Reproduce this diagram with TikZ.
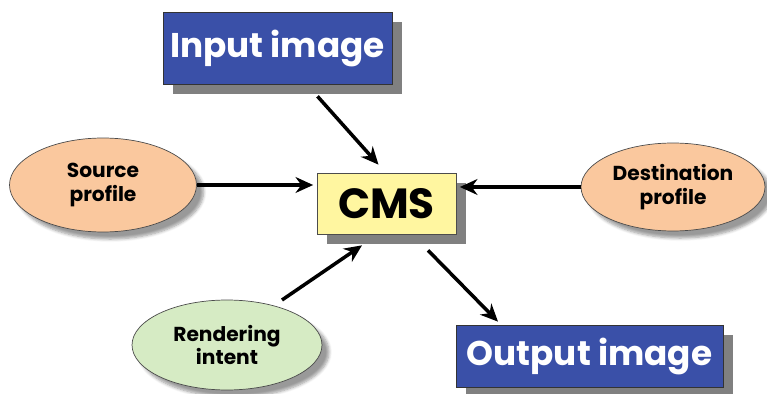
\documentclass[tikz,border=0pt]{standalone}
\usepackage{fontspec}
\setsansfont{Poppins}
\usetikzlibrary{arrows.meta,positioning,shapes.geometric,shadows,shadows.blur}
\definecolor{boxblue}{RGB}{58,80,168}
\definecolor{cmsyellow}{RGB}{255,246,160}
\definecolor{peach}{RGB}{250,200,158}
\definecolor{palegreen}{RGB}{214,235,196}
\definecolor{shadowgray}{RGB}{128,128,128}

\begin{document}
\begin{tikzpicture}[x=0.02cm, y=-0.02cm,
    imgbox/.style={rectangle, draw=black!80, fill=boxblue, text=white, inner sep=0pt,
        font=\sffamily\bfseries\fontsize{19.5}{22}\selectfont,
        drop shadow={shadow xshift=5.5pt, shadow yshift=-5.5pt, fill=shadowgray, opacity=1}},
    cmsbox/.style={rectangle, draw=black!70, fill=cmsyellow, inner sep=0pt,
        font=\sffamily\bfseries\fontsize{24}{26}\selectfont,
        drop shadow={shadow xshift=5.5pt, shadow yshift=-5.5pt, fill=shadowgray, opacity=1}},
    blob/.style={ellipse, draw=black!70, inner sep=0pt, align=center,
        font=\sffamily\bfseries\fontsize{11.5}{13.5}\selectfont,
        blur shadow={shadow xshift=4pt, shadow yshift=-4pt, shadow blur steps=6}},
    arr/.style={line width=2pt, -{Stealth[length=10pt, width=9pt]}},
]
    \useasboundingbox (0,0) rectangle (767,394);

    \node[imgbox, minimum width=4.58cm, minimum height=1.44cm] (inimg) at (277.5,48) {Input image};
    \node[cmsbox, minimum width=2.78cm, minimum height=1.22cm] (cms) at (386.5,203.5) {CMS};
    \node[imgbox, minimum width=5.34cm, minimum height=1.24cm] (outimg) at (589.5,356) {Output image};

    \node[blob, fill=peach, minimum width=3.74cm, minimum height=1.88cm] (src) at (103,185) {Source\\profile};
    \node[blob, fill=peach, minimum width=3.68cm, minimum height=1.76cm] (dst) at (673,187) {Destination\\profile};
    \node[blob, fill=palegreen, minimum width=3.8cm, minimum height=1.8cm] (rend) at (227,345) {Rendering\\intent};

    % connectors into and out of the CMS
    \draw[arr] ([shift={(40,12)}]inimg.south) -- ([shift={(-8,-8)}]cms.north);
    \draw[arr, shorten >=2pt] (src) -- (src -| cms.west);
    \draw[arr, shorten >=2pt] (dst) -- (dst -| cms.east);
    \draw[arr] ([shift={(55,-45)}]rend.center) -- ([shift={(-24.5,11)}]cms.south);
    \draw[arr] ([shift={(41.5,16)}]cms.south) -- ([shift={(-91.5,-3)}]outimg.north);
\end{tikzpicture}
\end{document}
